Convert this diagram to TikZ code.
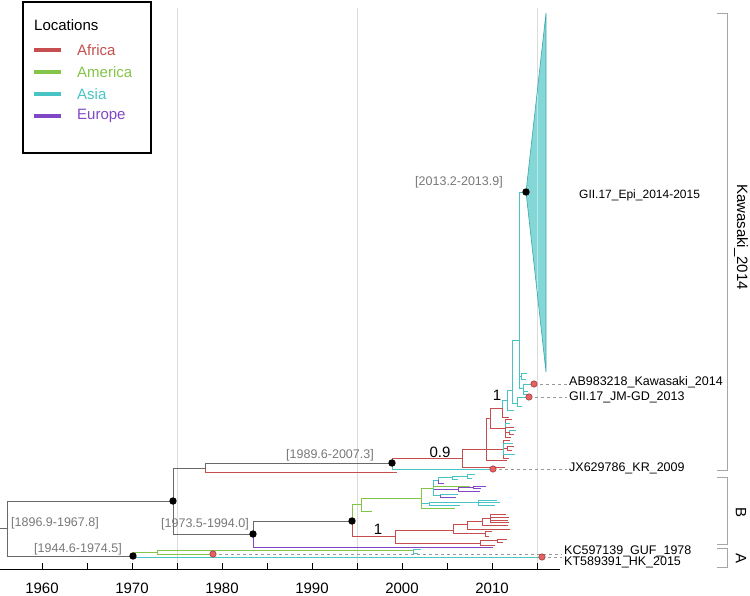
\documentclass[tikz,border=0pt]{standalone}
\usepackage{fontspec}
\setmainfont{Liberation Sans}
\usepackage{xcolor}
\usepackage{tikz}
\usetikzlibrary{calc, positioning}

\definecolor{afr}{RGB}{198,78,78}
\definecolor{ame}{RGB}{132,196,72}
\definecolor{asi}{RGB}{72,196,196}
\definecolor{eur}{RGB}{128,72,198}
\definecolor{gr}{RGB}{105,105,105}
\definecolor{hpdc}{RGB}{120,120,120}
\definecolor{rdotf}{RGB}{232,96,96}

\begin{document}
\begin{tikzpicture}[x=1pt, y=-1pt,
    br/.style={line width=0.9pt},
    grid/.style={line width=0.8pt, color=black!14},
    guide/.style={dashed, dash pattern=on 3pt off 3pt, color=black!40, line width=0.7pt},
    brk/.style={line width=0.8pt, color=black!35},
    tiplab/.style={anchor=west, inner sep=2pt, font=\fontsize{12.5}{14}\selectfont},
    hpd/.style={text=hpdc, inner sep=0pt, font=\fontsize{12.5}{14}\selectfont},
    post/.style={inner sep=0pt, font=\fontsize{15}{17}\selectfont},
    big/.style={inner sep=0pt, font=\fontsize{15}{17}\selectfont}]
    \useasboundingbox (0,0) rectangle (750,595);

    % Luoi doc
    \foreach \x in {177,357,537}
        \draw[grid] (\x,8) -- (\x,569);

    % Truc thoi gian
    \draw[line width=0.8pt] (0,569) -- (560,569);
    \foreach \k in {0,...,11}
        \draw[line width=0.8pt] (42+45*\k,569) -- (42+45*\k,563);
    \foreach \yr [count=\i from 0] in {1960,1970,...,2010}
        \node[big] at (42+90*\i,588) {\yr};

    % Cac nut trong cay
    \coordinate (R) at (7,528);
    \coordinate (A1) at (173,501);
    \coordinate (A2) at (133,556);
    \coordinate (B1) at (205,468);
    \coordinate (B2) at (253,534);
    \coordinate (K0) at (392,463);
    \coordinate (K1) at (462,458);
    \coordinate (K2) at (486,449);
    \coordinate (K5) at (490,418);
    \coordinate (K3) at (502,408);
    \coordinate (KE) at (507,400);
    \coordinate (KF) at (512,390);
    \coordinate (KG) at (519,340);
    \coordinate (EPI) at (526,192);
    \coordinate (KH) at (521,376);
    \coordinate (KI) at (523,388);
    \coordinate (KS) at (517,403);
    \coordinate (K6) at (505,428);
    \coordinate (K6a) at (509,432);
    \coordinate (K4) at (503,449);
    \coordinate (K4a) at (507,448);
    \coordinate (BB) at (352,521);
    \coordinate (BG) at (361,504);
    \coordinate (BG1) at (421,498);
    \coordinate (BG2) at (433,488);
    \coordinate (BT1) at (438,480);
    \coordinate (BT2) at (452,477);
    \coordinate (BT5) at (467,476);
    \coordinate (BP) at (458,489);
    \coordinate (BP2) at (473,487);
    \coordinate (BT3) at (440,495);
    \coordinate (BT4) at (429,503);
    \coordinate (BT6) at (478,502);
    \coordinate (BR) at (395,536);
    \coordinate (R1) at (453,530);
    \coordinate (R3) at (467,524);
    \coordinate (R5) at (482,521);
    \coordinate (R6) at (490,518);
    \coordinate (R4) at (485,533);
    \coordinate (R2) at (480,543);
    \coordinate (R7) at (497,540);
    \coordinate (G1) at (157,552);
    \coordinate (G2) at (413,550);
    % La co nhan
    \coordinate (JX) at (493,469);
    \coordinate (JM) at (529,397);
    \coordinate (AB) at (534,384);
    \coordinate (KC) at (213,554);
    \coordinate (KT) at (542,557);

    % Nhanh giua cac nut
    \draw[br,gr] (0,528) -- (R);
    \foreach \cl/\pa/\ch in {gr/R/A1, gr/R/A2, gr/A1/B1, gr/A1/B2, gr/B1/K0,
        afr/K0/K1, asi/K0/JX, afr/K1/K2, afr/K2/K5, afr/K2/K4, afr/K5/K3,
        afr/K5/K6, asi/K3/KE, asi/KE/KF, asi/KF/KG, asi/KF/KS, asi/KG/EPI,
        asi/KG/KH, asi/KG/KI, asi/KI/AB, asi/KS/JM, afr/K6/K6a, afr/K4/K4a,
        gr/B2/BB, ame/BB/BG, afr/BB/BR, ame/BG/BG1, ame/BG1/BG2, asi/BG1/BT4,
        asi/BG2/BT1, asi/BT1/BT2, asi/BT2/BT5, eur/BG2/BP, eur/BP/BP2,
        asi/BG2/BT3, asi/BT4/BT6, afr/BR/R1, afr/BR/R2, afr/R1/R3, afr/R1/R4,
        afr/R3/R5, afr/R5/R6, afr/R2/R7, ame/A2/G1, ame/G1/G2, ame/G1/KC,
        asi/A2/KT}
        \draw[br,\cl] (\pa) |- (\ch);

    % La nho
    \foreach \cl/\pa/\xx/\yy in {afr/B1/397/472, afr/K1/505/467, afr/K2/507/460,
        afr/K3/509/417, asi/KE/514/410, asi/KS/522/406, asi/KH/527/373,
        asi/KH/526/379, asi/KI/528/391, asi/KI/531/394, afr/K6/512/419,
        asi/K6/510/423, afr/K6/514/427, afr/K6/511/437, asi/K6a/516/430,
        afr/K6a/514/434, afr/K4/510/440, asi/K4/513/443, afr/K4/509/458,
        asi/K4/515/454, afr/K4a/514/446, afr/K4a/512/450, eur/B2/493/547,
        ame/BG/372/511, ame/BG1/455/508, ame/BG2/470/486, eur/BT1/444/483,
        asi/BT2/458/479, asi/BT5/475/474, asi/BT5/472/478, eur/BP/480/491,
        eur/BP2/486/486, eur/BP2/481/488, asi/BT3/458/494, eur/BT3/456/497,
        asi/BT4/460/505, asi/BT6/497/500, asi/BT6/500/502, asi/BT6/495/505,
        afr/R3/510/529, afr/R5/508/525, afr/R6/506/514, afr/R6/509/517,
        afr/R6/508/520, afr/R6/509/522, afr/R4/492/531, afr/R4/489/536,
        afr/R7/507/539, afr/R7/503/542, afr/R2/495/545, asi/G2/421/549,
        asi/G2/418/553}
        \draw[br,\cl] (\pa) |- (\xx,\yy);

    % Tam giac nhanh dich
    \filldraw[fill=asi!68!white, draw=asi!85!black, line width=0.6pt]
        (EPI) -- (546,13) -- (546,372) -- cycle;
    \draw[white, opacity=0.45, line width=0.8pt] (537,94) -- (537,291);

    % Nhan la
    \node[tiplab, font=\fontsize{12}{14}\selectfont] (lEPI) at (577,195) {GII.17\_Epi\_2014-2015};
    \node[tiplab] (lAB) at (567,382) {AB983218\_Kawasaki\_2014};
    \node[tiplab] (lJM) at (567,397) {GII.17\_JM-GD\_2013};
    \node[tiplab] (lJX) at (567,468) {JX629786\_KR\_2009};
    \node[tiplab] (lKC) at (562,551) {KC597139\_GUF\_1978};
    \node[tiplab] (lKT) at (562,562) {KT589391\_HK\_2015};
    \foreach \n in {AB,JM,JX,KC,KT}
        \draw[guide] (\n) -- (\n -| l\n.west);

    % Diem nut
    \foreach \n in {A1,A2,B2,BB,K0,EPI}
        \fill[black] (\n) circle (3.7);
    \foreach \n in {KC,KT,JX,JM,AB}
        \filldraw[fill=rdotf, draw=afr!80!black, line width=0.6pt] (\n) circle (3.2);

    % Khoang HPD va xac suat hau nghiem
    \node[hpd] (h1) at (55,523) {[1896.9-1967.8]};
    \node[hpd] (h2) at (78,549) {[1944.6-1974.5]};
    \node[hpd] (h3) at (205,524) {[1973.5-1994.0]};
    \node[hpd] (h4) at (330,455) {[1989.6-2007.3]};
    \node[hpd, anchor=east] (h5) at (503,182) {[2013.2-2013.9]};
    \node[post] (p1) at (378,529) {1};
    \node[post] (p2) at (440,452) {0.9};
    \node[post] (p3) at (497,395) {1};

    % Ngoac nhom ben phai
    \draw[brk] (717,13) -- (727,13) -- (727,470) -- (717,470);
    \draw[brk] (717,477) -- (727,477) -- (727,544) -- (717,544);
    \draw[brk] (717,548) -- (727,548) -- (727,567) -- (717,567);
    \node[big, rotate=-90] (gK) at (741,237) {Kawasaki\_2014};
    \node[big, rotate=-90] (gB) at (741,512) {B};
    \node[big, rotate=-90] (gA) at (741,558) {A};

    % Chu giai
    \draw[line width=1.3pt] (23,2) rectangle (151,153);
    \node[big, anchor=west] (lt) at (34,25) {Locations};
    \foreach \cl/\t [count=\i from 0] in {afr/Africa, ame/America, asi/Asia, eur/Europe} {
        \draw[\cl, line width=4pt] (34,50+22*\i) -- (61,50+22*\i);
        \node[big, anchor=west, text=\cl] at (77,50+22*\i) {\t};
    }
\end{tikzpicture}
\end{document}
